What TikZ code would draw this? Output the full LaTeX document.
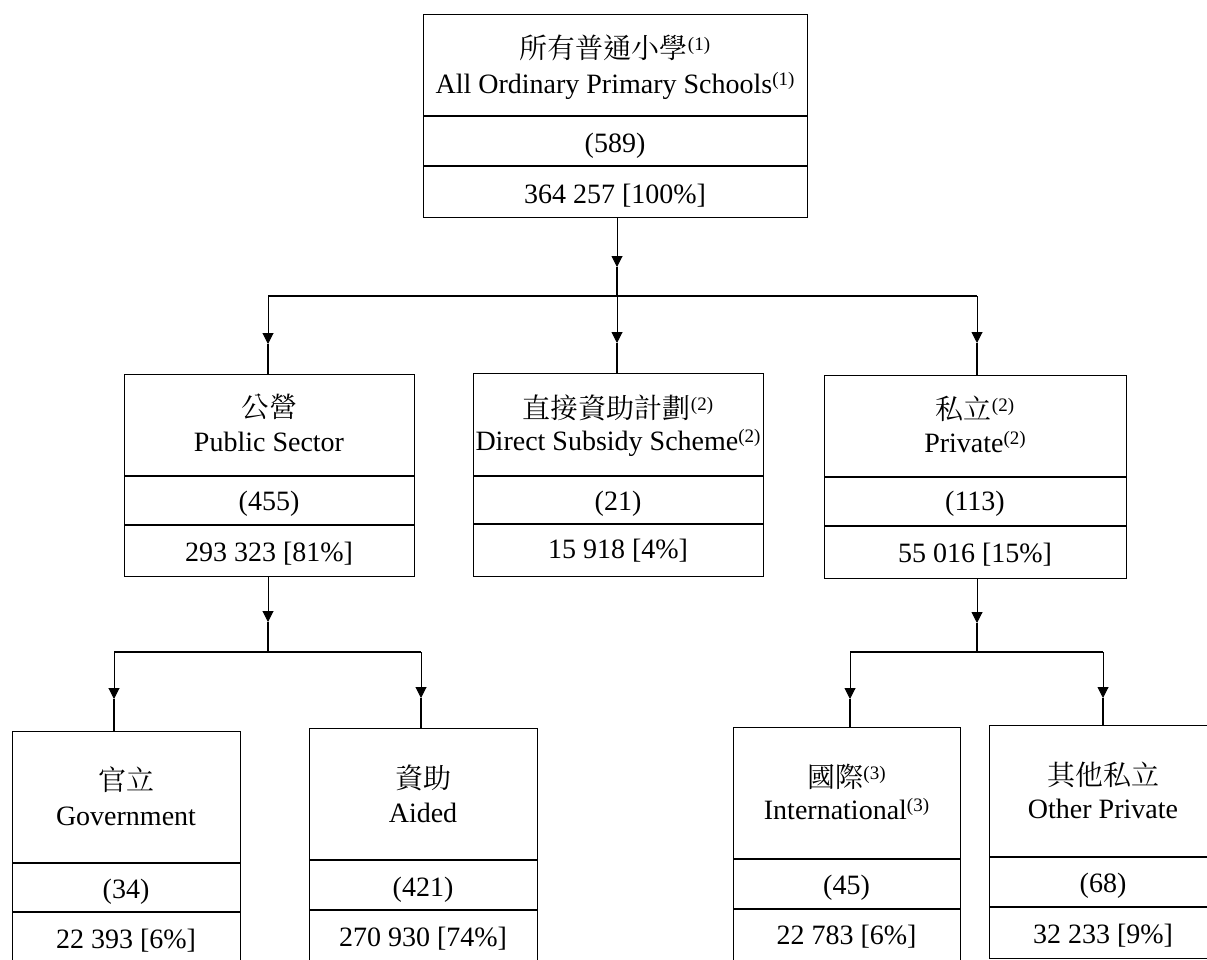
\documentclass[tikz,border=0pt]{standalone}
\usepackage{fontspec}
\setmainfont{Liberation Serif}
\newfontfamily\cjk{Noto Serif CJK TC}
\usetikzlibrary{arrows.meta}
\newcommand\nsup[1]{\raisebox{7.5pt}{\rmfamily\fontsize{19}{19}\selectfont #1}}
\begin{document}
\begin{tikzpicture}[x=1pt,y=-1pt,
  box/.style={draw, line width=1.2pt, inner sep=0pt, anchor=north west},
  divl/.style={line width=1.2pt},
  zh/.style={font=\fontsize{28}{34}\selectfont\cjk, inner sep=0pt, anchor=base},
  en/.style={font=\fontsize{28}{34}\selectfont, inner sep=0pt, anchor=base},
  conn/.style={line width=1pt, -{Triangle[length=11pt,width=11pt]}},
  thk/.style={line width=2pt},
  thn/.style={line width=1.3pt}]
\clip (0,0) rectangle (1207,959);
\fill[white] (0,0) rectangle (1207,959);

% ---------- boxes ----------
\node[box, minimum width=384, minimum height=203] (all) at (423,14) {};
\draw[divl] (423,116) -- (807,116);
\draw[divl] (423,166) -- (807,166);

\node[box, minimum width=290, minimum height=202] (pub) at (124,374) {};
\draw[divl] (124,476) -- (414,476);
\draw[divl] (124,525) -- (414,525);

\node[box, minimum width=290, minimum height=203] (dss) at (473,373) {};
\draw[divl] (473,476) -- (763,476);
\draw[divl] (473,524) -- (763,524);

\node[box, minimum width=302, minimum height=203] (pri) at (824,375) {};
\draw[divl] (824,477) -- (1126,477);
\draw[divl] (824,526) -- (1126,526);

\node[box, minimum width=228, minimum height=232] (gov) at (12,731) {};
\draw[divl] (12,863) -- (240,863);
\draw[divl] (12,912) -- (240,912);

\node[box, minimum width=228, minimum height=235] (aid) at (309,728) {};
\draw[divl] (309,860) -- (537,860);
\draw[divl] (309,910) -- (537,910);

\node[box, minimum width=227, minimum height=236] (intl) at (733,727) {};
\draw[divl] (733,859) -- (960,859);
\draw[divl] (733,909) -- (960,909);

\node[box, minimum width=228, minimum height=233] (oth) at (989,725) {};
\draw[divl] (989,857) -- (1217,857);
\draw[divl] (989,907) -- (1217,907);

% ---------- texts ----------
\node[zh] (all-zh) at (615,58) {所有普通小學\nsup{(1)}};
\node[en] (all-en) at (615,93) {All Ordinary Primary Schools\nsup{(1)}};
\node[en] (all-n) at (615,152) {(589)};
\node[en] (all-t) at (615,203) {364 257 [100\%]};

\node[zh] (pub-zh) at (269,417) {公營};
\node[en] (pub-en) at (269,451) {Public Sector};
\node[en] (pub-n) at (269,510) {(455)};
\node[en] (pub-t) at (269,561) {293 323 [81\%]};

\node[zh] (dss-zh) at (618,418) {直接資助計劃\nsup{(2)}};
\node[en] (dss-en) at (618,450) {Direct Subsidy Scheme\nsup{(2)}};
\node[en] (dss-n) at (618,510) {(21)};
\node[en] (dss-t) at (618,558) {15 918 [4\%]};

\node[zh] (pri-zh) at (975,419) {私立\nsup{(2)}};
\node[en] (pri-en) at (975,452) {Private\nsup{(2)}};
\node[en] (pri-n) at (975,510) {(113)};
\node[en] (pri-t) at (975,562) {55 016 [15\%]};

\node[zh] (gov-zh) at (126,790) {官立};
\node[en] (gov-en) at (126,825) {Government};
\node[en] (gov-n) at (126,898) {(34)};
\node[en] (gov-t) at (126,948) {22 393 [6\%]};

\node[zh] (aid-zh) at (423,788) {資助};
\node[en] (aid-en) at (423,822) {Aided};
\node[en] (aid-n) at (423,896) {(421)};
\node[en] (aid-t) at (423,946) {270 930 [74\%]};

\node[zh] (intl-zh) at (846.5,787) {國際\nsup{(3)}};
\node[en] (intl-en) at (846.5,819) {International\nsup{(3)}};
\node[en] (intl-n) at (846.5,894) {(45)};
\node[en] (intl-t) at (846.5,944) {22 783 [6\%]};

\node[zh] (oth-zh) at (1103,785) {其他私立};
\node[en] (oth-en) at (1103,818) {Other Private};
\node[en] (oth-n) at (1103,892) {(68)};
\node[en] (oth-t) at (1103,943) {32 233 [9\%]};

% ---------- connector points ----------
\coordinate (t0) at (617,267);
\coordinate (jt) at (617,296);
\coordinate (jl) at (268,296);
\coordinate (jr) at (977,296);
\coordinate (t1) at (268,344);
\coordinate (t2) at (617,343);
\coordinate (t3) at (977,343);

\coordinate (t4) at (268,622);
\coordinate (jp) at (268,652);
\coordinate (jpl) at (114,652);
\coordinate (jpr) at (421,652);
\coordinate (t5) at (114,699);
\coordinate (t6) at (421,698);

\coordinate (t7) at (977,623);
\coordinate (jq) at (977,652);
\coordinate (jql) at (850,652);
\coordinate (jqr) at (1103,652);
\coordinate (t8) at (850,699);
\coordinate (t9) at (1103,698);

% ---------- connectors ----------
\draw[conn] (all.south -| t0) -- (t0);
\draw[thk] (t0) -- (jt);
\draw[thk] (jl) -- (jr);
\draw[conn] (jl) -- (t1);
\draw[thk] (t1) -- (pub.north -| t1);
\draw[conn] (jt) -- (t2);
\draw[thk] (t2) -- (dss.north -| t2);
\draw[conn] (jr) -- (t3);
\draw[thk] (t3) -- (pri.north -| t3);

\draw[conn] (pub.south -| t4) -- (t4);
\draw[thk] (t4) -- (jp);
\draw[thk] (jpl) -- (jpr);
\draw[conn] (jpl) -- (t5);
\draw[thk] (t5) -- (gov.north -| t5);
\draw[conn] (jpr) -- (t6);
\draw[thk] (t6) -- (aid.north -| t6);

\draw[conn] (pri.south -| t7) -- (t7);
\draw[thk] (t7) -- (jq);
\draw[thn] (jql) -- (jqr);
\draw[conn] (jql) -- (t8);
\draw[thk] (t8) -- (intl.north -| t8);
\draw[conn] (jqr) -- (t9);
\draw[thk] (t9) -- (oth.north -| t9);
\end{tikzpicture}
\end{document}
